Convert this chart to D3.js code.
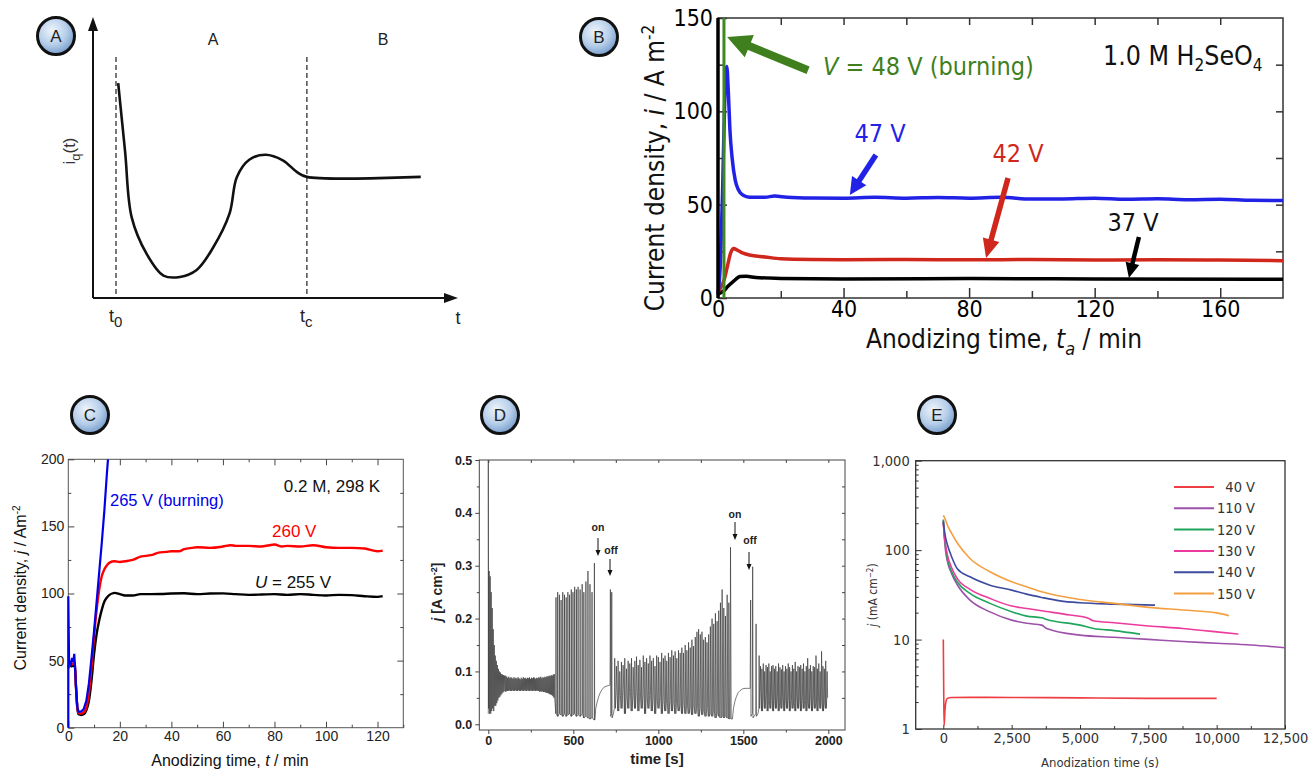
<!DOCTYPE html>
<html><head><meta charset="utf-8">
<script src="https://cdn.jsdelivr.net/npm/d3@7"></script>
<style>body{margin:0;background:#fff}svg{display:block}</style>
</head><body>
<script>
// ---------------- DATA ----------------
// Panel A (schematic, arbitrary units)
const aCurve = [[6.9,76.5],[8.8,52],[10.6,28.7],[14.7,15.7],[19.3,8],[23.8,7.5],[28.4,10],[32.8,17.7],[37.4,30],[39.4,43],[42.8,49.2],[47.3,51],[52,49],[55.9,44.8],[58.6,43.1],[89.8,43.1]];
const aMarks = [6.3, 58.6];          // t0, tc
// Panel B : current density (A m-2) vs time (min)
const b47 = [[0,2],[0.8,20],[1.5,60],[2.2,110],[2.8,124],[3.3,110],[3.8,90],[4.5,75],[5.5,63],[6.5,58],[8,55],[10,54],[15,54],[18,54.6],[22,54],[30,53.6],[40,53.5],[50,54],[60,53.5],[70,53.8],[80,53.5],[90,54],[100,53],[110,53.1],[120,53.5],[130,52.9],[140,53.2],[150,52.7],[160,52.9],[170,52.3],[180,52.2]];
const b42 = [[0,3],[1,6],[2,10],[3,17],[4,24],[5,26.5],[6,25.8],[8,24],[10,23],[15,22],[20,21],[30,20.6],[40,20.5],[60,20.6],[80,20.5],[100,20.6],[120,20.4],[140,20.5],[160,20.3],[180,20]];
const b37 = [[0,2],[1,3],[2,4],[3,6],[5,9],[7,11.5],[9,11.6],[12,11],[20,10.5],[40,10.2],[80,10.4],[120,10.2],[180,10]];
const b48 = [[1.9,0],[1.9,152]];
const bXTicks = [0,40,80,120,160], bYTicks = [0,50,100,150];
// Panel C : current density (A m-2) vs time (min)
const c255 = [[0,45],[0.5,47],[1,46],[2,46],[2.5,47],[3,30],[3.5,15],[4,10],[5,9.5],[6,10],[7,13],[8,20],[9,35],[10,55],[11,70],[12,80],[13,88],[14,94],[15,97],[16,99],[17,100],[18,100.5],[20,99.5],[22,98.5],[25,98.5],[28,99.5],[32,99.5],[36,99.6],[40,100],[45,100.2],[50,99.5],[55,100],[60,100.1],[65,99.5],[70,99],[75,99.2],[80,99.5],[85,99],[90,99.5],[95,99],[100,98.5],[105,99],[110,98.8],[115,98],[120,97.5],[122,98]];
const c260 = [[0,44],[0.5,48],[1,47],[2,48],[2.5,49],[3,30],[3.5,15],[4,11],[5,10.5],[6,11.5],[7,15],[8,26],[9,45],[10,68],[11,88],[12,103],[13,113],[14,118],[15,121],[16,123],[18,124],[20,123.5],[22,124],[25,125],[28,127.5],[30,128],[33,129],[35,130.5],[38,131],[40,131.5],[43,131.5],[45,133],[48,134],[50,134.5],[55,134],[60,135],[63,136],[65,135.5],[70,135.5],[75,135],[78,136],[80,136.5],[83,135],[85,135.5],[90,135],[95,136],[100,134.5],[105,134],[110,134],[115,133.5],[120,131.5],[122,132]];
const c265 = [[0,0],[0,98],[0.3,50],[1,47],[1.5,52],[2,49],[2.3,55],[2.6,46],[3,30],[3.5,15],[4,12],[5,12],[6,14],[7,20],[8,33],[9,52],[10,72],[11,94],[12,116],[13,138],[14,162],[15,190],[15.4,200]];
const cXTicks = [0,20,40,60,80,100,120], cYTicks = [0,50,100,150,200];
// Panel D : j (A cm-2) vs time (s)
const dStart = [[0,0.02],[0,0.5],[2,0.03],[5,0.29],[8,0.02],[11,0.28],[14,0.02],[17,0.25],[20,0.025],[23,0.22],[26,0.03],[29,0.18],[32,0.025],[35,0.15],[38,0.035],[41,0.13],[44,0.035],[47,0.12],[50,0.04],[53,0.112],[56,0.045],[59,0.105],[62,0.05],[65,0.1],[68,0.052],[71,0.098],[74,0.055],[77,0.095],[80,0.058],[83,0.094],[86,0.06],[89,0.093],[92,0.062],[95,0.092],[98,0.063]];
const dBandSpan = [100, 392];
const dBandHigh = [0.092,0.09,0.088,0.09,0.087,0.089,0.088,0.086,0.089,0.087,0.088,0.086,0.089,0.087,0.085,0.088,0.086,0.089,0.087,0.088,0.086,0.088,0.087,0.089,0.086,0.088,0.087,0.089,0.088,0.086,0.088,0.087,0.089,0.088,0.09,0.087,0.089,0.088,0.09,0.089,0.091,0.09,0.092,0.091,0.093,0.092,0.094,0.095];
const dBandLow = [0.062,0.064,0.063,0.065,0.064,0.063,0.065,0.064,0.063,0.065,0.064,0.063,0.065,0.064,0.063,0.065,0.064,0.063,0.065,0.064,0.063,0.065,0.064,0.063,0.065,0.064,0.063,0.065,0.064,0.063,0.065,0.064,0.063,0.062,0.064,0.062,0.063,0.061,0.062,0.06,0.06,0.059,0.058,0.057,0.056,0.055,0.053,0.05];
const dBurst1T = [398,408,418,428,438,448,458,468,478,488,498,508,518,528,540,552,562,574,586,598,610,624];
const dBurst1Peak = [0.24,0.25,0.245,0.235,0.25,0.245,0.24,0.25,0.245,0.255,0.25,0.26,0.255,0.26,0.255,0.265,0.25,0.27,0.29,0.265,0.25,0.305];
const dBurst1Low = [0.02,0.015,0.02,0.018,0.015,0.02,0.015,0.018,0.02,0.015,0.018,0.02,0.015,0.018,0.015,0.02,0.012,0.015,0.012,0.01,0.012,0.008];
const dRecov1 = [[627,0.01],[632,0.03],[640,0.042],[650,0.053],[660,0.061],[670,0.066],[680,0.07],[692,0.072],[705,0.073],[714,0.074],[716,0.074],[718,0.255],[720,0.015],[724,0.02],[726,0.25],[728,0.012],[736,0.02]];
const dDense2Span = [740, 1431];
const dDense2Peak = [0.125,0.11,0.12,0.1,0.118,0.112,0.125,0.105,0.12,0.115,0.125,0.108,0.12,0.128,0.112,0.122,0.108,0.13,0.118,0.125,0.115,0.13,0.12,0.125,0.11,0.13,0.127,0.118,0.135,0.125,0.13,0.12,0.135,0.127,0.14,0.13,0.138,0.125,0.14,0.135,0.145,0.135,0.15,0.14,0.155,0.145,0.16,0.148,0.165,0.175,0.18,0.17,0.175,0.16,0.165,0.155,0.17,0.185,0.2,0.19,0.21,0.195,0.215,0.23,0.255,0.22,0.205,0.245,0.23,0.335];
const dDense2Low = [0.03,0.06,0.025,0.055,0.03,0.065,0.02,0.05,0.03,0.06,0.025,0.055,0.03,0.06,0.025,0.05,0.03,0.055,0.02,0.05,0.03,0.055,0.025,0.05,0.02,0.045,0.03,0.05,0.02,0.045,0.025,0.04,0.02,0.045,0.025,0.04,0.02,0.04,0.025,0.035,0.02,0.04,0.02,0.035,0.02,0.03,0.018,0.035,0.02,0.03,0.015,0.03,0.018,0.025,0.015,0.03,0.015,0.02,0.015,0.025,0.012,0.02,0.015,0.012,0.015,0.012,0.015,0.012,0.01,0.01];
const dRecov2 = [[1436,0.01],[1442,0.03],[1450,0.043],[1460,0.053],[1470,0.06],[1482,0.064],[1495,0.067],[1510,0.068],[1525,0.068],[1540,0.068],[1543,0.235],[1545,0.015],[1553,0.02],[1555,0.298],[1557,0.012],[1573,0.02],[1575,0.19],[1577,0.015],[1586,0.02]];
const dDense3Span = [1590, 1998];
const dDense3Peak = [0.13,0.11,0.105,0.115,0.1,0.112,0.108,0.115,0.1,0.11,0.112,0.105,0.11,0.1,0.115,0.108,0.104,0.112,0.1,0.11,0.105,0.115,0.108,0.1,0.112,0.105,0.118,0.1,0.11,0.108,0.112,0.105,0.115,0.1,0.11,0.125,0.105,0.112,0.1,0.11,0.108,0.13,0.105,0.115,0.1,0.138,0.11,0.105,0.12,0.1];
const dDense3Low = [0.03,0.06,0.025,0.05,0.03,0.055,0.025,0.045,0.03,0.05,0.025,0.045,0.03,0.05,0.025,0.04,0.03,0.05,0.025,0.045,0.03,0.05,0.025,0.045,0.03,0.04,0.025,0.05,0.03,0.045,0.025,0.05,0.03,0.045,0.025,0.04,0.03,0.05,0.025,0.045,0.03,0.04,0.025,0.05,0.03,0.045,0.025,0.04,0.03,0.05];
const dXTicks = [0,500,1000,1500,2000], dYTicks = [0,0.1,0.2,0.3,0.4,0.5];
// Panel E : j (mA cm-2) vs anodization time (s)
const eSeries = ["40 V","110 V","120 V","130 V","140 V","150 V"];
const eColors = ["#ee3d43","#9d52aa","#1fa55c","#ec3a9e","#3d4b9f","#f4a041"];
const e40 = [[0,10],[8,5],[18,2],[30,1.1],[60,1.6],[100,2.05],[150,2.2],[300,2.25],[1000,2.26],[2500,2.25],[5000,2.23],[7500,2.2],[10000,2.2]];
const e110 = [[0,215],[30,150],[80,100],[150,75],[300,55],[512,41],[976,27.6],[1707,20.4],[2500,16.5],[3049,15.2],[3598,14.5],[3780,13.3],[5000,11.2],[6256,10.6],[7500,10.05],[8756,9.5],[10000,9.1],[11256,8.7],[12500,8.1]];
const e120 = [[0,220],[30,160],[80,110],[150,80],[300,58],[512,44],[976,32.8],[1707,25.4],[2500,20.5],[3049,18.3],[3598,17.5],[3780,16.8],[5000,14.5],[5500,13.3],[6256,12.6],[7195,11.5]];
const e130 = [[0,200],[30,155],[80,115],[150,88],[300,64],[512,48],[976,36.4],[1707,28.8],[2500,23.7],[3049,22.3],[3598,21],[4634,18.8],[5305,17.3],[5488,16.2],[6256,15.4],[7500,14.2],[8756,13.3],[10000,12.2],[10793,11.5]];
const e140 = [[0,210],[30,175],[80,140],[150,115],[300,85],[512,62],[976,50.3],[1707,40.6],[2500,35.7],[3049,32.2],[3598,29.6],[4268,27.1],[5000,25.8],[6256,24.9],[7744,24.3]];
const e150 = [[0,245],[60,225],[150,190],[300,155],[512,120],[976,80.7],[1707,57.3],[2500,44.3],[3049,38.9],[3598,34.2],[5000,28.1],[6256,25.4],[7500,22.9],[8756,21.4],[10000,19.9],[10450,18.5]];
const eXTicks = [0,2500,5000,7500,10000,12500], eYTicks = [1,10,100,1000];

// ---------------- DRAW ----------------
const SANS = "'Liberation Sans',Arial,Helvetica,sans-serif";
const NARROW = "'Liberation Sans Narrow','Arial Narrow','DejaVu Sans Condensed',sans-serif";
const svg = d3.select("body").append("svg").attr("width",1314).attr("height",771).style("font-family",SANS);
const defs = svg.append("defs");
const grad = defs.append("radialGradient").attr("id","cg").attr("cx","40%").attr("cy","35%").attr("r","70%");
grad.append("stop").attr("offset","0%").attr("stop-color","#eef4fb");
grad.append("stop").attr("offset","55%").attr("stop-color","#b7cfea");
grad.append("stop").attr("offset","100%").attr("stop-color","#6f97c8");

function axis(g, orient, scale, at, values, size, o={}){
  const gen = ({left:d3.axisLeft,right:d3.axisRight,top:d3.axisTop,bottom:d3.axisBottom})[orient](scale)
    .tickValues(values).tickSizeInner(size).tickSizeOuter(0).tickPadding(o.pad ?? 4)
    .tickFormat(o.fmt || (()=>""));
  const tr = (orient==="left"||orient==="right") ? `translate(${at},0)` : `translate(0,${at})`;
  const a = g.append("g").attr("transform",tr).call(gen);
  a.select(".domain").remove();
  a.selectAll(".tick line").attr("stroke",o.stroke||"#000").attr("stroke-width",o.sw||1);
  a.selectAll(".tick text").attr("font-family",o.font||SANS).attr("font-size",o.fs||12)
    .attr("fill",o.color||"#000").attr("font-weight",o.fw||"normal");
  return a;
}
function arrow(g,x1,y1,x2,y2,w,hl,hw,color){
  const dx=x2-x1, dy=y2-y1, L=Math.hypot(dx,dy), ux=dx/L, uy=dy/L, px=-uy, py=ux;
  const bx=x2-ux*hl, by=y2-uy*hl;
  g.append("line").attr("x1",x1).attr("y1",y1).attr("x2",bx+ux).attr("y2",by+uy).attr("stroke",color).attr("stroke-width",w);
  g.append("polygon").attr("points",[[x2,y2],[bx+px*hw/2,by+py*hw/2],[bx-px*hw/2,by-py*hw/2]].map(p=>p.join(",")).join(" ")).attr("fill",color);
}
function badge(x,y,letter){
  svg.append("circle").attr("cx",x).attr("cy",y).attr("r",18.5).attr("fill","url(#cg)").attr("stroke","#111").attr("stroke-width",3);
  svg.append("text").attr("x",x).attr("y",y+6).attr("text-anchor","middle").attr("font-size",17).attr("fill","#222").text(letter);
}

// ===== Panel A =====
{
  const g = svg.append("g");
  const x = d3.scaleLinear().domain([0,100]).range([93,458]);
  const y = d3.scaleLinear().domain([0,100]).range([298,17]);
  aMarks.forEach(t=>g.append("line").attr("x1",x(t)).attr("x2",x(t)).attr("y1",57).attr("y2",y(0))
    .attr("stroke","#222").attr("stroke-width",1.2).attr("stroke-dasharray","5,3"));
  g.append("line").attr("x1",x(0)).attr("y1",y(0)).attr("x2",x(100)-10).attr("y2",y(0)).attr("stroke","#111").attr("stroke-width",2);
  g.append("line").attr("x1",x(0)).attr("y1",y(0)).attr("x2",x(0)).attr("y2",y(100)+10).attr("stroke","#111").attr("stroke-width",2);
  g.append("polygon").attr("points",`${x(100)},${y(0)} ${x(100)-14},${y(0)-5} ${x(100)-14},${y(0)+5}`).attr("fill","#111");
  g.append("polygon").attr("points",`${x(0)},${y(100)} ${x(0)-5},${y(100)+14} ${x(0)+5},${y(100)+14}`).attr("fill","#111");
  g.append("path").datum(aCurve).attr("fill","none").attr("stroke","#111").attr("stroke-width",2.6)
    .attr("d",d3.line().x(d=>x(d[0])).y(d=>y(d[1])).curve(d3.curveCatmullRom));
  g.append("text").attr("x",213).attr("y",45).attr("text-anchor","middle").attr("font-size",16).attr("fill","#222").text("A");
  g.append("text").attr("x",383).attr("y",45).attr("text-anchor","middle").attr("font-size",16).attr("fill","#222").text("B");
  const t0 = g.append("text").attr("x",x(aMarks[0])-7).attr("y",322).attr("font-size",18).attr("fill","#222");
  t0.append("tspan").text("t"); t0.append("tspan").attr("dy",5).attr("font-size",15).text("0");
  const tc = g.append("text").attr("x",x(aMarks[1])-7).attr("y",322).attr("font-size",18).attr("fill","#222");
  tc.append("tspan").text("t"); tc.append("tspan").attr("dy",5).attr("font-size",15).text("c");
  g.append("text").attr("x",458).attr("y",324).attr("text-anchor","middle").attr("font-size",18).attr("fill","#222").text("t");
  const iq = g.append("text").attr("transform","translate(75,151) rotate(-90)").attr("text-anchor","middle").attr("font-size",17).attr("fill","#333");
  iq.append("tspan").text("i"); iq.append("tspan").attr("dy",5).attr("font-size",13).text("q"); iq.append("tspan").attr("dy",-5).text("(t)");
}

// ===== Panel B =====
{
  const g = svg.append("g");
  const x = d3.scaleLinear().domain([0,180]).range([718,1283]);
  const y = d3.scaleLinear().domain([0,150]).range([298,18]);
  g.append("rect").attr("x",718).attr("y",18).attr("width",565).attr("height",280).attr("fill","none").attr("stroke","#333").attr("stroke-width",1.5);
  const tick = {stroke:"#333",sw:1.5};
  axis(g,"bottom",x,298,bXTicks,-10,{...tick,fmt:d=>d,font:NARROW,fs:23,pad:3});
  axis(g,"bottom",x,298,[20,60,100,140],-7,tick);
  axis(g,"top",x,18,[20,40,60,80,100,120,140,160],-7,tick);
  axis(g,"left",y,718,bYTicks,-9,{...tick,fmt:d=>d,font:NARROW,fs:23,pad:5});
  axis(g,"left",y,718,[25,75,125],-6,tick);
  axis(g,"right",y,1283,[25,50,75,100,125],-7,tick);
  const line = d3.line().x(d=>x(d[0])).y(d=>y(d[1]));
  const series = [[b37,"#000",3.5],[b42,"#d0271d",3.5],[b47,"#2222e6",3.5]];
  series.forEach(([d,c,w])=>g.append("path").datum(d).attr("fill","none").attr("stroke",c).attr("stroke-width",w).attr("stroke-linejoin","round").attr("d",line.curve(d3.curveMonotoneX)(d)));
  g.append("path").datum(b48).attr("fill","none").attr("stroke","#3f8a1e").attr("stroke-width",3).attr("d",d3.line().x(d=>x(d[0])).y(d=>Math.max(18,y(d[1])))(b48));
  g.append("line").attr("x1",718).attr("x2",718).attr("y1",18).attr("y2",298).attr("stroke","#000").attr("stroke-width",3.5);
  // annotations
  arrow(g,x(28.7),y(122),x(2.9),y(139.8),8,24,24,"#3f7f1d");
  arrow(g,x(50.3),y(76.6),x(42),y(55.2),5.5,17,17,"#2222e6");
  arrow(g,x(92.4),y(64.3),x(85.4),y(21.4),5.5,19,17,"#d0271d");
  arrow(g,x(134.1),y(32.7),x(130.9),y(10.7),4.5,15,14,"#000");
  const tf = (t,fs=25)=>t.attr("font-family",NARROW).attr("font-size",fs);
  const g48 = tf(g.append("text").attr("x",823).attr("y",75).attr("fill","#3f7f1d"));
  g48.append("tspan").attr("font-style","italic").text("V"); g48.append("tspan").text(" = 48 V (burning)");
  const hs = tf(g.append("text").attr("x",1103).attr("y",65).attr("fill","#111"),26.5);
  hs.append("tspan").text("1.0 M H"); hs.append("tspan").attr("dy",6).attr("font-size",17).text("2");
  hs.append("tspan").attr("dy",-6).text("SeO"); hs.append("tspan").attr("dy",6).attr("font-size",17).text("4");
  tf(g.append("text").attr("x",880).attr("y",142).attr("text-anchor","middle").attr("fill","#2222e6").text("47 V"));
  tf(g.append("text").attr("x",1018).attr("y",162).attr("text-anchor","middle").attr("fill","#d0271d").text("42 V"));
  tf(g.append("text").attr("x",1133).attr("y",231).attr("text-anchor","middle").attr("fill","#111").text("37 V"));
  const xt = g.append("text").attr("x",1004).attr("y",348).attr("text-anchor","middle").attr("font-family",NARROW).attr("font-size",26).attr("fill","#111");
  xt.append("tspan").text("Anodizing time, "); xt.append("tspan").attr("font-style","italic").text("t");
  xt.append("tspan").attr("font-style","italic").attr("dy",7).attr("font-size",18).text("a"); xt.append("tspan").attr("dy",-7).text(" / min");
  const yt = g.append("text").attr("transform","translate(664,168) rotate(-90)").attr("text-anchor","middle").attr("font-family",NARROW).attr("font-size",26).attr("fill","#111");
  yt.append("tspan").text("Current density, "); yt.append("tspan").attr("font-style","italic").text("i");
  yt.append("tspan").text(" / A m"); yt.append("tspan").attr("dy",-10).attr("font-size",17).text("-2");
}

// ===== Panel C =====
{
  const g = svg.append("g");
  const x = d3.scaleLinear().domain([0,130]).range([68.3,403.3]);
  const y = d3.scaleLinear().domain([0,200]).range([727.7,459.3]);
  g.append("rect").attr("x",68.3).attr("y",459.3).attr("width",335).attr("height",268.4).attr("fill","none").attr("stroke","#555").attr("stroke-width",1);
  const tk = {stroke:"#444",sw:1};
  axis(g,"bottom",x,727.7,cXTicks,-6,{...tk,fmt:d=>d,fs:14,color:"#222",pad:3});
  axis(g,"bottom",x,727.7,[10,30,50,70,90,110,130],-3,tk);
  axis(g,"top",x,459.3,[20,40,60,80,100,120],-6,tk);
  axis(g,"top",x,459.3,[10,30,50,70,90,110],-3,tk);
  axis(g,"left",y,68.3,cYTicks,-6,{...tk,fmt:d=>d,fs:14,color:"#222",pad:4});
  axis(g,"left",y,68.3,[25,75,125,175],-3,tk);
  axis(g,"right",y,403.3,[50,100,150],-6,tk);
  axis(g,"right",y,403.3,[25,75,125,175],-3,tk);
  const line = d3.line().x(d=>x(d[0])).y(d=>y(d[1]));
  g.append("path").attr("d",line.curve(d3.curveMonotoneX)(c255)).attr("fill","none").attr("stroke","#000").attr("stroke-width",2.4);
  g.append("path").attr("d",line.curve(d3.curveMonotoneX)(c260)).attr("fill","none").attr("stroke","#f00").attr("stroke-width",2.4);
  g.append("path").attr("d",d3.line().x(d=>x(d[0])).y(d=>y(d[1]))(c265)).attr("fill","none").attr("stroke","#0000e8").attr("stroke-width",2.2);
  g.append("text").attr("x",332).attr("y",492).attr("text-anchor","middle").attr("font-size",17).attr("fill","#111").text("0.2 M, 298 K");
  g.append("text").attr("x",110).attr("y",506).attr("font-size",16.5).attr("fill","#0000e8").text("265 V (burning)");
  g.append("text").attr("x",272).attr("y",537).attr("font-size",17).attr("fill","#f00").text("260 V");
  const u = g.append("text").attr("x",255).attr("y",588).attr("font-size",17).attr("fill","#111");
  u.append("tspan").attr("font-style","italic").text("U"); u.append("tspan").text(" = 255 V");
  const xt = g.append("text").attr("x",230).attr("y",766).attr("text-anchor","middle").attr("font-size",16).attr("fill","#111");
  xt.append("tspan").text("Anodizing time, "); xt.append("tspan").attr("font-style","italic").text("t"); xt.append("tspan").text(" / min");
  const yt = g.append("text").attr("transform","translate(26,588) rotate(-90)").attr("text-anchor","middle").attr("font-size",16).attr("fill","#111");
  yt.append("tspan").text("Current density, "); yt.append("tspan").attr("font-style","italic").text("j");
  yt.append("tspan").text(" / Am"); yt.append("tspan").attr("dy",-6).attr("font-size",10).text("-2");
}

// ===== Panel D =====
{
  const g = svg.append("g");
  const x = d3.scaleLinear().domain([-53,2098]).range([479.3,845]);
  const y = d3.scaleLinear().domain([-0.0108,0.5]).range([730,460]);
  const pts = [];
  dStart.forEach(p=>pts.push(p));
  function osc(span, hi, lo){
    const n = hi.length, step = (span[1]-span[0])/n;
    hi.forEach((h,i)=>{ const t = span[0]+i*step; pts.push([t+step*0.15,lo[i]],[t+step*0.35,h],[t+step*0.75,lo[i]]); });
  }
  osc(dBandSpan, dBandHigh, dBandLow);
  dBurst1T.forEach((t,i)=>{ pts.push([t-1,dBurst1Low[i]],[t,dBurst1Peak[i]],[t+1.6,dBurst1Low[i]]); });
  dRecov1.forEach(p=>pts.push(p));
  osc(dDense2Span, dDense2Peak, dDense2Low);
  dRecov2.forEach(p=>pts.push(p));
  osc(dDense3Span, dDense3Peak, dDense3Low);
  g.append("path").attr("d",d3.line().x(d=>x(d[0])).y(d=>y(d[1]))(pts)).attr("fill","none").attr("stroke","#333").attr("stroke-width",0.65);
  g.append("rect").attr("x",479.3).attr("y",460).attr("width",365.7).attr("height",270).attr("fill","none").attr("stroke","#444").attr("stroke-width",1);
  const tk = {stroke:"#444",sw:1};
  axis(g,"bottom",x,730,dXTicks,4,{...tk,fmt:d=>d,fs:12.5,fw:"bold",color:"#222",pad:2});
  axis(g,"bottom",x,730,[250,750,1250,1750],2.5,tk);
  axis(g,"top",x,460,[0,250,500,750,1000,1250,1500,1750,2000],-3,tk);
  axis(g,"left",y,479.3,dYTicks,4,{...tk,fmt:d3.format(".1f"),fs:12.5,fw:"bold",color:"#222",pad:3});
  axis(g,"left",y,479.3,[0.05,0.15,0.25,0.35,0.45],2.5,tk);
  axis(g,"right",y,845,[0.05,0.1,0.15,0.2,0.25,0.3,0.35,0.4,0.45],-3,tk);
  const marks = [["on",598,531,538,556],["off",611,554,559,576],["on",735,518,522,540],["off",750,544,552,570]];
  marks.forEach(([t,tx,ty,a1,a2])=>{
    g.append("text").attr("x",tx).attr("y",ty).attr("text-anchor","middle").attr("font-size",10.5).attr("font-weight","bold").attr("fill","#222").text(t);
    const ax = t==="off"? tx-1 : tx;
    arrow(g,ax,a1,ax,a2,1,6,5,"#111");
  });
  g.append("text").attr("x",657).attr("y",764).attr("text-anchor","middle").attr("font-size",15).attr("font-weight","bold").attr("fill","#222").text("time [s]");
  const yt = g.append("text").attr("transform","translate(442,592) rotate(-90)").attr("text-anchor","middle").attr("font-size",14).attr("font-weight","bold").attr("fill","#222");
  yt.append("tspan").attr("font-style","italic").text("j"); yt.append("tspan").text(" [A cm"); yt.append("tspan").attr("dy",-5).attr("font-size",9).text("-2");
  yt.append("tspan").attr("dy",5).text("]");
}

// ===== Panel E =====
{
  const g = svg.append("g");
  const x = d3.scaleLinear().domain([-1010,12500]).range([915.7,1285]);
  const y = d3.scaleLog().domain([1,1000]).range([729,460.7]);
  g.append("rect").attr("x",915.7).attr("y",460.7).attr("width",369.3).attr("height",268.3).attr("fill","none").attr("stroke","#333").attr("stroke-width",1.3);
  const tk = {stroke:"#333",sw:1};
  const fmt = d3.format(",");
  axis(g,"bottom",x,729,eXTicks,-4,{...tk,fmt:fmt,font:NARROW,fs:14.5,color:"#333",pad:4});
  axis(g,"bottom",x,729,[1250,3750,6250,8750,11250],-3,tk);
  axis(g,"left",y,915.7,eYTicks,-6,{...tk,fmt:fmt,font:NARROW,fs:14.5,color:"#333",pad:6});
  const minors = [];
  [1,10,100].forEach(b=>[2,3,4,5,6,7,8,9].forEach(m=>minors.push(b*m)));
  axis(g,"left",y,915.7,minors,-3,tk);
  const data = [e40,e110,e120,e130,e140,e150];
  const line = d3.line().x(d=>x(d[0])).y(d=>y(d[1])).curve(d3.curveMonotoneX);
  data.forEach((d,i)=>g.append("path").attr("d",line(d)).attr("fill","none").attr("stroke",eColors[i]).attr("stroke-width",1.6));
  eSeries.forEach((s,i)=>{
    const yy = 487 + i*21.3;
    g.append("line").attr("x1",1174).attr("x2",1214).attr("y1",yy).attr("y2",yy).attr("stroke",eColors[i]).attr("stroke-width",2);
    g.append("text").attr("x",1255).attr("y",yy+5).attr("text-anchor","end").attr("font-family",NARROW).attr("font-size",14.5).attr("fill","#333").text(s);
  });
  g.append("text").attr("x",1100).attr("y",767).attr("text-anchor","middle").attr("font-family",NARROW).attr("font-size",13).attr("fill","#333").text("Anodization time (s)");
  const yt = g.append("text").attr("transform","translate(877,595) rotate(-90)").attr("text-anchor","middle").attr("font-family",NARROW).attr("font-size",12).attr("fill","#333");
  yt.append("tspan").attr("font-style","italic").text("j"); yt.append("tspan").text(" (mA cm"); yt.append("tspan").attr("dy",-4).attr("font-size",8).text("−2");
  yt.append("tspan").attr("dy",4).text(")");
}

badge(56,36,"A"); badge(599,37,"B"); badge(90,415,"C"); badge(500,415,"D"); badge(937,415,"E");
</script>
</body></html>
